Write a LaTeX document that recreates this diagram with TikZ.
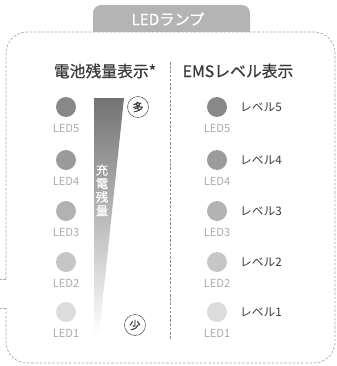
\documentclass[tikz,border=0pt]{standalone}
\usepackage{fontspec}
\setmainfont{Noto Sans CJK JP}
\newfontfamily\medfont{Noto Sans CJK JP}[FakeBold=0.7]
\definecolor{framegray}{HTML}{A8A8A8}
\definecolor{tabgray}{HTML}{B4B4B4}
\definecolor{textdark}{HTML}{3A3A3A}
\definecolor{labelgray}{HTML}{ABABAB}
\definecolor{ledfive}{HTML}{888888}
\definecolor{ledfour}{HTML}{9B9B9B}
\definecolor{ledthree}{HTML}{B2B2B2}
\definecolor{ledtwo}{HTML}{C6C6C6}
\definecolor{ledone}{HTML}{DCDCDC}
\tikzset{
  framedash/.style={framegray, line width=0.6pt, dash pattern=on 2.2pt off 1.4pt},
  led/.style={circle, inner sep=0pt, minimum size=0.6cm},
  ledlabel/.style={text=labelgray, font=\fontsize{9.5}{10}\selectfont, inner sep=0pt},
  levellabel/.style={text=textdark, font=\fontsize{10}{11}\selectfont, anchor=west, inner sep=0pt},
  heading/.style={text=textdark, font=\medfont\fontsize{13.5}{15}\selectfont, inner sep=0pt},
  amount/.style={draw=textdark, circle, inner sep=0pt, minimum size=0.63cm, text=textdark,
    font=\medfont\fontsize{9.5}{10}\selectfont}
}
\begin{document}
\begin{tikzpicture}[x=0.03cm, y=-0.03cm]
    \useasboundingbox (0,0) rectangle (336,366);

    % tab on top of the frame
    \fill[tabgray, rounded corners=7] (93,32) -- (93,5) -- (250,5) -- (250,32);
    \node[text=white, font=\medfont\fontsize{13}{14}\selectfont, inner sep=0pt] (tab) at (168,19) {LEDランプ};

    % dashed frame, open on the left side
    \draw[framedash, rounded corners=18]
      (6,279) -- (6,32) -- (335,32) -- (335,363) -- (6,363) -- (6,308);
    \draw[framedash] (6,279) -- (0,279);
    \draw[framedash] (6,308) -- (0,308);

    % divider
    \coordinate (DivTop) at (170,62);
    \coordinate (DivBot) at (170,340);
    \draw[framedash, framegray!85!black] (DivTop) -- (DivBot);

    \node[heading] (battery) at (105,71) {電池残量表示*};
    \node[heading] (ems) at (238,71) {EMSレベル表示};

    \foreach \n/\y/\c in {5/107/ledfive, 4/160/ledfour, 3/211/ledthree, 2/262/ledtwo, 1/312/ledone}{%
      \node[led, fill=\c] (bl\n) at (66,\y) {};
      \node[ledlabel] (bt\n) at (66,\y+21) {LED\n};
      \node[led, fill=\c] (el\n) at (217,\y) {};
      \node[ledlabel] (et\n) at (217,\y+21) {LED\n};
      \node[levellabel] (lv\n) at (240,\y) {レベル\n};
    }

    % charge wedge
    \shade[top color=black!55, bottom color=white] (94,98) -- (124,98) -- (99,335) -- (94,335) -- cycle;
    \node[text=white, inner sep=0pt, font=\medfont\fontsize{10.5}{12.5}\selectfont] (charge) at (102,192)
      {\begin{tabular}{@{}c@{}}充\\[-1pt]電\\[-1pt]残\\[-1pt]量\end{tabular}};

    \node[amount] (many) at (138,107) {多};
    \node[amount] (few) at (135,325) {少};
  \end{tikzpicture}
\end{document}
